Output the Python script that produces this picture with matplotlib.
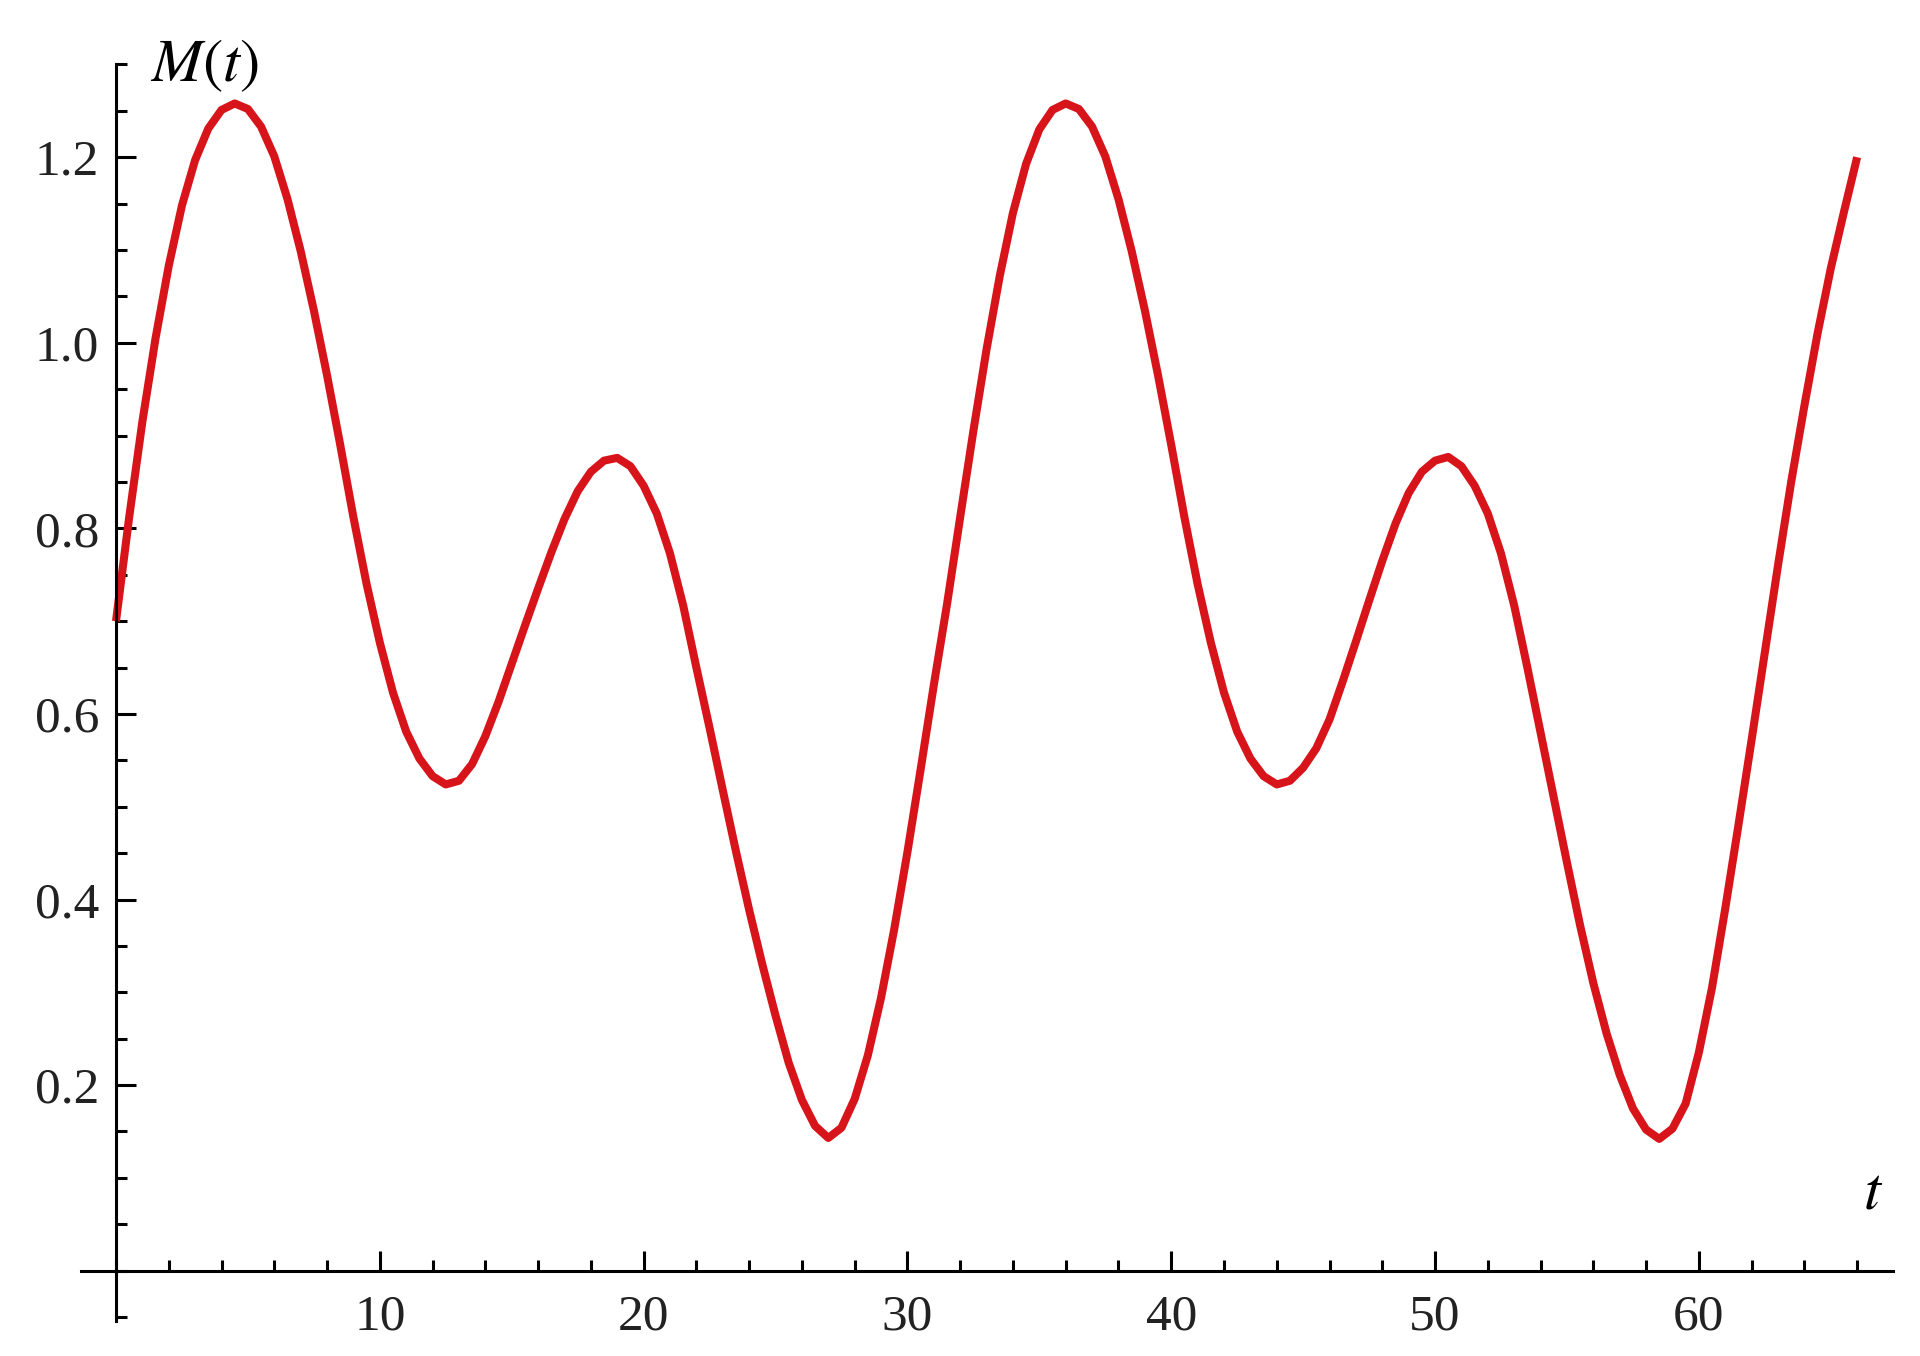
import matplotlib
matplotlib.use("Agg")
import matplotlib.pyplot as plt
from matplotlib.ticker import FixedLocator, MultipleLocator, FormatStrFormatter

# значення M(t), зчитані з рисунка з кроком 0.5 по t (від 0 до 66)
t_step = 0.5
m_vals = [
    0.700, 0.812, 0.915, 1.005, 1.083, 1.148, 1.197, 1.231, 1.251, 1.258,   # 0 .. 4.5
    1.252, 1.233, 1.201, 1.155, 1.099, 1.035, 0.965, 0.890, 0.812, 0.740,   # 5 .. 9.5
    0.677, 0.623, 0.581, 0.552, 0.533, 0.524, 0.528, 0.546, 0.576, 0.613,   # 10 .. 14.5
    0.654, 0.695, 0.735, 0.774, 0.810, 0.840, 0.861, 0.873, 0.876, 0.867,   # 15 .. 19.5
    0.846, 0.816, 0.773, 0.717, 0.650, 0.585, 0.518, 0.452, 0.389, 0.330,   # 20 .. 24.5
    0.275, 0.224, 0.184, 0.156, 0.143, 0.154, 0.185, 0.232, 0.294, 0.368,   # 25 .. 29.5
    0.451, 0.540, 0.631, 0.718, 0.812, 0.905, 0.993, 1.072, 1.140, 1.193,   # 30 .. 34.5
    1.230, 1.251, 1.258, 1.252, 1.233, 1.201, 1.155, 1.099, 1.035, 0.965,   # 35 .. 39.5
    0.890, 0.812, 0.740, 0.677, 0.623, 0.581, 0.552, 0.533, 0.524, 0.528,   # 40 .. 44.5
    0.542, 0.563, 0.594, 0.635, 0.678, 0.722, 0.765, 0.805, 0.838, 0.861,   # 45 .. 49.5
    0.873, 0.877, 0.867, 0.846, 0.816, 0.773, 0.717, 0.650, 0.580, 0.510,   # 50 .. 54.5
    0.440, 0.372, 0.310, 0.256, 0.211, 0.175, 0.152, 0.142, 0.153, 0.180,   # 55 .. 59.5
    0.235, 0.305, 0.390, 0.480, 0.572, 0.666, 0.760, 0.850, 0.932, 1.010,   # 60 .. 64.5
    1.080, 1.141, 1.200,                                                    # 65 .. 66
]
t_vals = [i * t_step for i in range(len(m_vals))]

x_major = [10, 20, 30, 40, 50, 60]
y_major = [0.2, 0.4, 0.6, 0.8, 1.0, 1.2]

plt.rcParams["mathtext.fontset"] = "stix"

fig = plt.figure(figsize=(19.2, 13.56), dpi=100)
ax = fig.add_axes([0.042, 0.026, 0.9438, 0.9268])

ax.plot(t_vals, m_vals, color="#d8141b", linewidth=5.8,
        solid_joinstyle="round", solid_capstyle="butt")

ax.set_xlim(-1.34, 67.35)
ax.set_ylim(-0.054, 1.3005)

# осі через початок координат
for s in ["top", "right"]:
    ax.spines[s].set_visible(False)
ax.spines["left"].set_position(("data", 0))
ax.spines["bottom"].set_position(("data", 0))
for s in ["left", "bottom"]:
    ax.spines[s].set_linewidth(2.2)

ax.xaxis.set_major_locator(FixedLocator(x_major))
ax.xaxis.set_minor_locator(MultipleLocator(2))
ax.yaxis.set_major_locator(FixedLocator(y_major))
ax.yaxis.set_minor_locator(MultipleLocator(0.05))
ax.xaxis.set_major_formatter(FormatStrFormatter("%d"))
ax.yaxis.set_major_formatter(FormatStrFormatter("%.1f"))

ax.tick_params(which="major", direction="in", length=14.5, width=2.2)
ax.tick_params(which="minor", direction="in", length=7.6, width=2.2)
ax.tick_params(axis="x", which="major", pad=17)
ax.tick_params(axis="y", which="major", pad=12)

for lab in ax.get_xticklabels() + ax.get_yticklabels():
    lab.set_fontfamily("Liberation Serif")
    lab.set_fontsize(37)
    lab.set_color("#222222")

ax.text(1.3, 1.30, "$M(t)$", fontsize=44, ha="left", va="center")
ax.text(66.6, 0.085, "$t$", fontsize=44, ha="center", va="center")

fig.savefig("out.png", dpi=100)
